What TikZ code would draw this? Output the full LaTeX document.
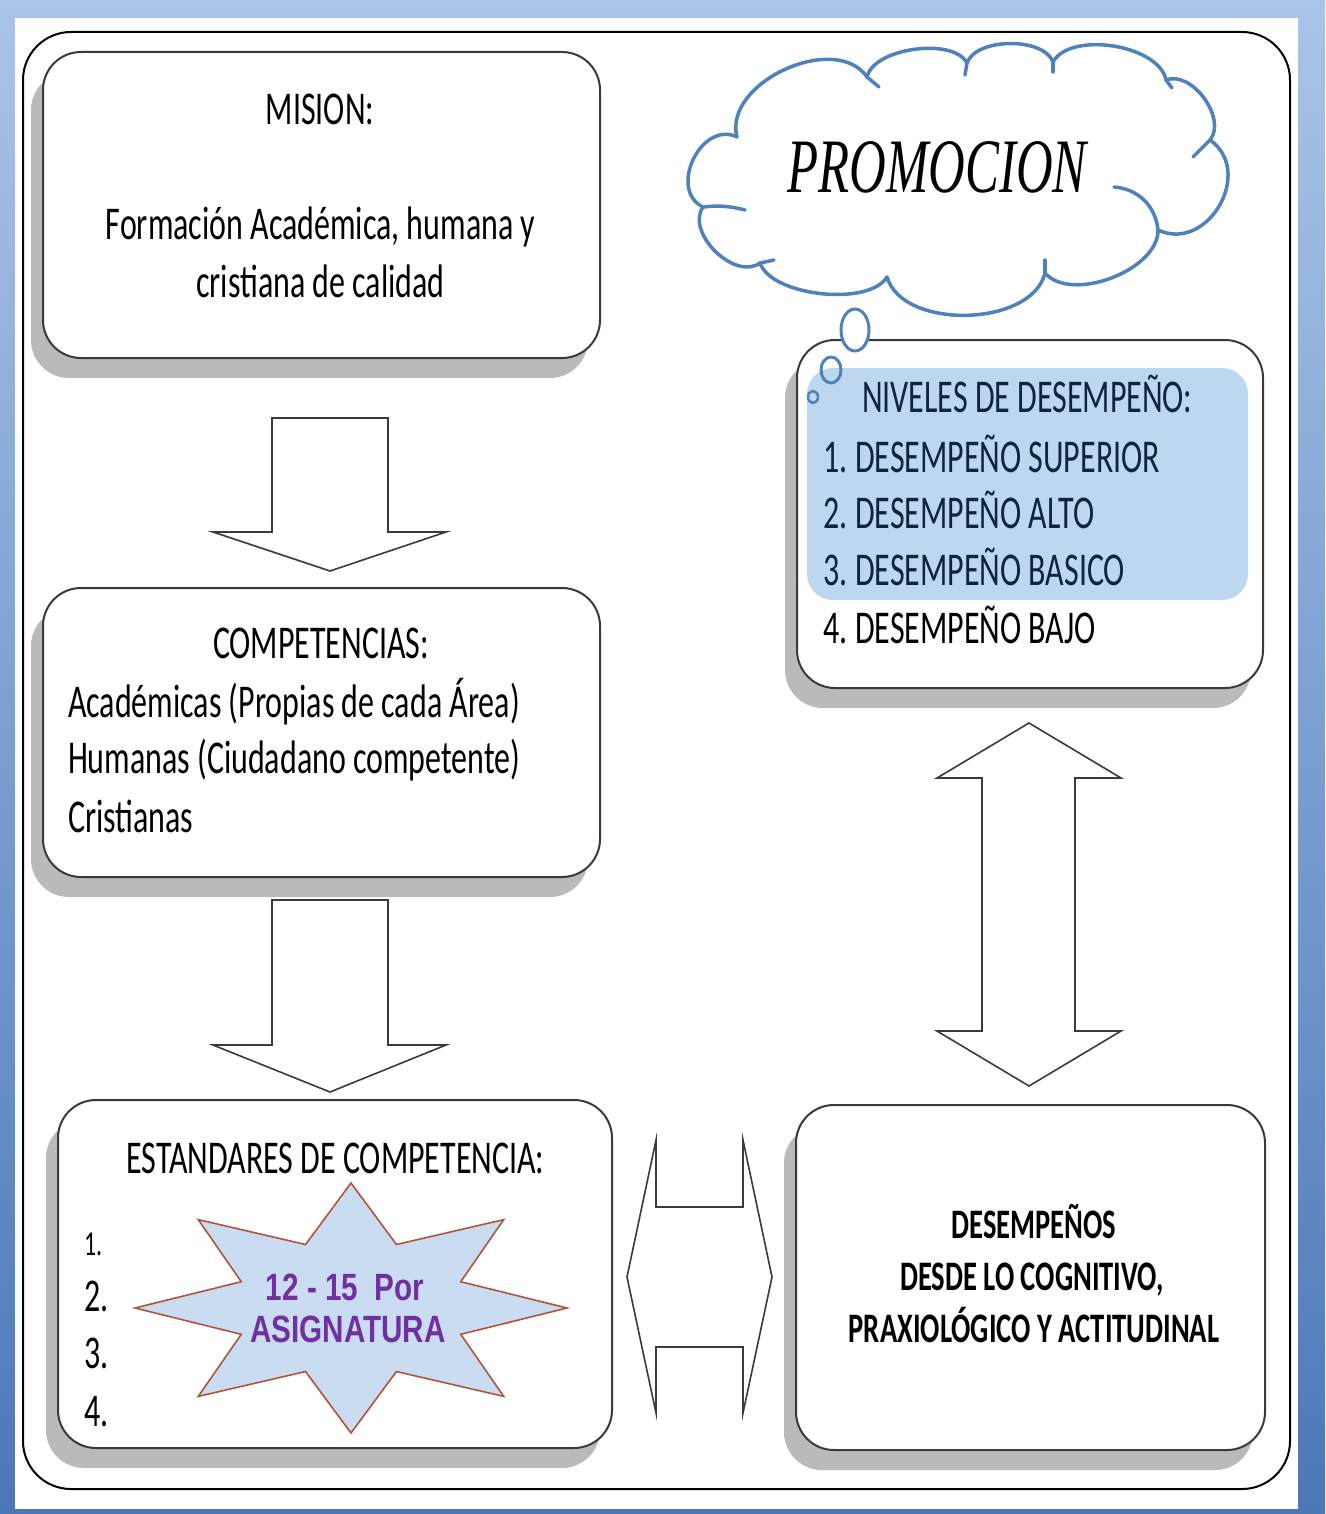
\documentclass[tikz,border=0pt]{standalone}
\usepackage{fontspec}
\newfontfamily\calfont{Carlito}[FakeStretch=0.68]
\newfontfamily\serfont{Liberation Serif}[FakeStretch=0.66]
\newfontfamily\arlfont{Liberation Sans}[FakeStretch=0.78]
\usetikzlibrary{shadows}
\definecolor{frametop}{HTML}{A9C4E8}
\definecolor{framebot}{HTML}{4C78B8}
\definecolor{cloudblue}{HTML}{4F81BD}
\definecolor{hilite}{HTML}{BDD7EE}
\definecolor{navytxt}{HTML}{0F243E}
\definecolor{starfill}{HTML}{CADCF2}
\definecolor{starline}{HTML}{B0553A}
\definecolor{purp}{HTML}{7030A0}
\definecolor{boxline}{HTML}{3A3A3A}
\begin{document}
\begin{tikzpicture}[x=1pt,y=1pt,
  mybox/.style={draw=boxline, line width=2, fill=white, rounded corners=38, inner sep=0, outer sep=0,
     drop shadow={shadow xshift=-12pt, shadow yshift=-20pt, fill=black!27, opacity=1}},
  txt/.style={font=\calfont\fontsize{47}{47}\selectfont, inner sep=0, outer sep=0, anchor=base},
  btxt/.style={font=\calfont\bfseries\fontsize{42}{42}\selectfont, inner sep=0, outer sep=0, anchor=base},
  blockarrow/.style={draw=boxline, line width=1.6, fill=white, line join=miter},
  cloudline/.style={draw=cloudblue, line width=3.5, line cap=round, line join=round}]
\useasboundingbox (0,0) rectangle (1325,-1514);
% window frame
\shade[top color=frametop, bottom color=framebot] (0,0) rectangle (1325,-1514);
\fill[white] (15,-18) rectangle (1298,-1509);
% outer rounded frame
\draw[line width=2, rounded corners=48] (23,-32) rectangle (1290,-1489);
% boxes
\node[mybox, minimum width=557, minimum height=306] (mision) at (321.5,-205) {};
\node[mybox, minimum width=557, minimum height=289] (comp) at (321.5,-732.5) {};
\node[mybox, minimum width=554, minimum height=348] (est) at (335,-1274) {};
\node[mybox, minimum width=466, minimum height=348] (niv) at (1030,-514) {};
\node[mybox, minimum width=469, minimum height=345] (des) at (1030.5,-1277.5) {};
% highlight
\fill[hilite, rounded corners=26] (807,-368) rectangle (1248,-600);
% texts MISION
\node[txt] (t1) at (320,-125) {MISION:};
\node[txt] (t2) at (320.5,-240) {Formación Académica, humana y};
\node[txt] (t3) at (320.5,-297) {cristiana de calidad};
% COMPETENCIAS
\node[txt] (c0) at (321,-658) {COMPETENCIAS:};
\node[txt, anchor=base west] (c1) at (68,-717) {Académicas (Propias de cada Área)};
\node[txt, anchor=base west] (c2) at (68,-773) {Humanas (Ciudadano competente)};
\node[txt, anchor=base west] (c3) at (68,-832) {Cristianas};
% ESTANDARES
\node[txt] (e0) at (335.5,-1173) {ESTANDARES DE COMPETENCIA:};
\node[txt, anchor=base west, font=\calfont\fontsize{35}{35}\selectfont] (e1) at (84,-1255) {1.};
\node[txt, anchor=base west] (e2) at (84,-1311) {2.};
\node[txt, anchor=base west] (e3) at (84,-1368) {3.};
\node[txt, anchor=base west] (e4) at (84,-1426) {4.};
% star
\begin{scope}[shift={(351,-1308)}, xscale=216, yscale=125]
\draw[fill=starfill, draw=starline, line width=1.6, line join=miter]
  (90:1) -- (67.5:0.55) -- (45:1) -- (22.5:0.55) -- (0:1) -- (-22.5:0.55) -- (-45:1) -- (-67.5:0.55)
  -- (-90:1) -- (-112.5:0.55) -- (-135:1) -- (-157.5:0.55) -- (180:1) -- (157.5:0.55) -- (135:1) -- (112.5:0.55) -- cycle;
\end{scope}
\node[inner sep=0, anchor=base, text=purp, font=\arlfont\bfseries\fontsize{38}{38}\selectfont] (s1) at (345,-1300) {12 - 15\ \ Por};
\node[inner sep=0, anchor=base, text=purp, font=\arlfont\bfseries\fontsize{38}{38}\selectfont] (s2) at (348,-1342) {ASIGNATURA};
% NIVELES
\node[txt, anchor=base west, text=navytxt] (n0) at (862,-412) {NIVELES DE DESEMPEÑO:};
\node[txt, anchor=base west, text=navytxt] (n1) at (823,-472) {1.\,DESEMPEÑO SUPERIOR};
\node[txt, anchor=base west, text=navytxt] (n2) at (823,-528) {2.\,DESEMPEÑO ALTO};
\node[txt, anchor=base west, text=navytxt] (n3) at (823,-585) {3.\,DESEMPEÑO BASICO};
\node[txt, anchor=base west] (n4) at (823,-643) {4.\,DESEMPEÑO BAJO};
% DESEMPENOS
\node[btxt] (d1) at (1034,-1238) {DESEMPEÑOS};
\node[btxt] (d2) at (1032,-1290) {DESDE LO COGNITIVO,};
\node[btxt] (d3) at (1034,-1342) {PRAXIOLÓGICO Y ACTITUDINAL};
% block arrows
\draw[blockarrow] (272,-418) -- (388,-418) -- (388,-532) -- (446,-532) -- (330,-571) -- (213,-532) -- (272,-532) -- cycle;
\draw[blockarrow] (272,-900) -- (388,-900) -- (388,-1045) -- (446,-1045) -- (330,-1092) -- (213,-1045) -- (272,-1045) -- cycle;
\draw[blockarrow] (1029,-723) -- (1121,-778) -- (1075,-778) -- (1075,-1031) -- (1121,-1031) -- (1029,-1086)
  -- (937,-1031) -- (982,-1031) -- (982,-778) -- (937,-778) -- cycle;
\draw[blockarrow] (627,-1277) -- (656,-1140) -- (656,-1207) -- (743,-1207) -- (743,-1140) -- (772,-1277)
  -- (743,-1413) -- (743,-1347) -- (656,-1347) -- (656,-1413) -- cycle;
% cloud
\draw[cloudline, fill=white]
  (703,-207) to[bend left=90, looseness=1.3] (737,-137)
  to[bend left=80, looseness=1.0] (867,-77)
  to[bend left=70, looseness=0.75] (967,-63)
  to[bend left=70, looseness=0.8] (1053,-62)
  to[bend left=70, looseness=0.8] (1166,-80)
  to[bend left=75, looseness=0.95] (1210,-140)
  to[bend left=85, looseness=1.35] (1158,-230)
  to[bend left=70, looseness=0.85] (1045,-273)
  to[bend left=75, looseness=0.9] (887,-277)
  to[bend left=65, looseness=0.7] (760,-263)
  to[bend left=80, looseness=1.0] (703,-207) -- cycle;
\draw[cloudline] (703,-207) to[bend left=10] (745,-210);
\draw[cloudline] (867,-77) -- (879,-87);
\draw[cloudline] (967,-63) -- (965,-75);
\draw[cloudline] (1053,-62) -- (1053,-72);
\draw[cloudline] (1166,-80) -- (1172,-88);
\draw[cloudline] (1210,-140) -- (1193,-157);
\draw[cloudline] (1114,-187) to[bend left=40] (1158,-230);
\draw[cloudline] (1045,-273) -- (1045,-260);
\draw[cloudline] (760,-263) -- (774,-260);
\node[inner sep=0, anchor=base, font=\serfont\itshape\fontsize{77}{77}\selectfont] (promo) at (937,-193) {PROMOCION};
% thought bubbles
\draw[cloudline, line width=3, fill=white] (855,-330) ellipse [x radius=14, y radius=21];
\draw[cloudline, line width=3] (831,-370) ellipse [x radius=10, y radius=13];
\draw[cloudline, line width=2.5] (813,-397) ellipse [x radius=5, y radius=6];
\end{tikzpicture}
\end{document}
